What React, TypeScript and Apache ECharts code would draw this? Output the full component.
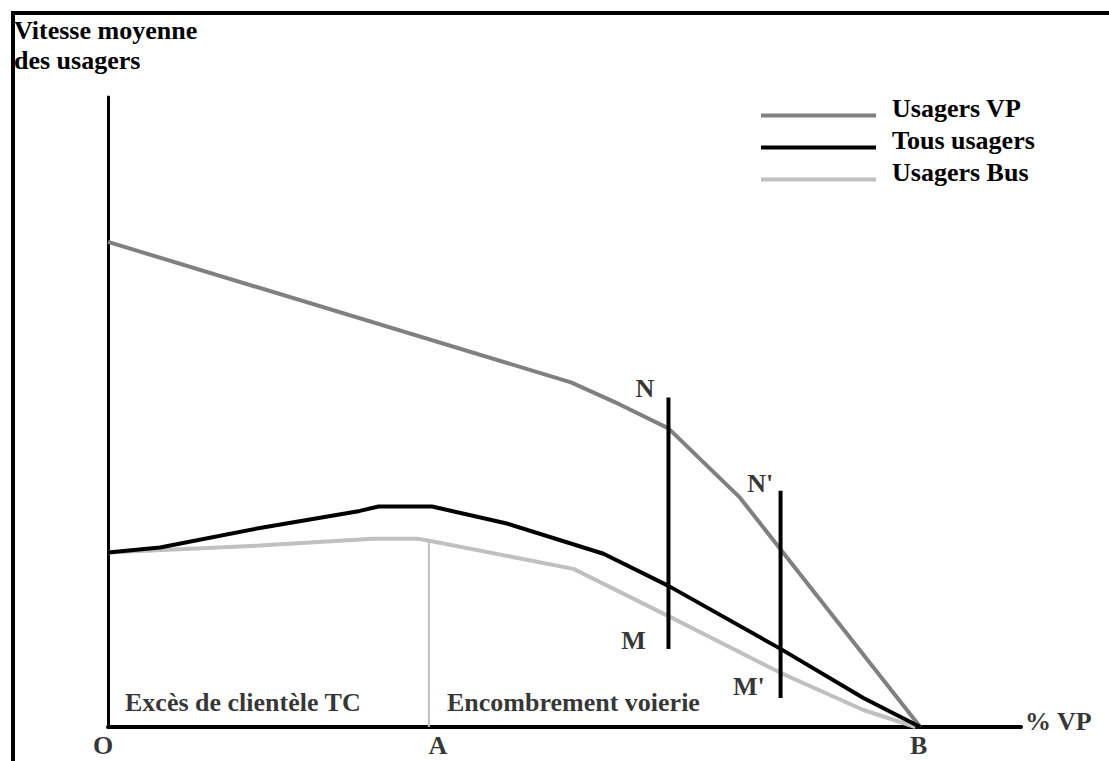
import React, { useEffect, useRef } from "react";
import * as echarts from "echarts";

// Horizontal axis: share of private-car users (% VP), O = 0, B = 100
// Vertical axis: average speed of users (arbitrary units, 0..100)
const seriesNames = ["Usagers VP", "Tous usagers", "Usagers Bus"];

const vpSpeed: [number, number][] = [
  [0, 77], [57, 54.7], [63, 51.2], [69, 47.4], [77.8, 36.4], [100, 0],
];
const allSpeed: [number, number][] = [
  [0, 27.7], [6.4, 28.5], [18.7, 31.6], [31, 34.3], [33.3, 35], [39.9, 35],
  [49.1, 32.3], [61, 27.5], [69, 22.4], [82.8, 12.4], [93, 4.6], [100, 0],
];
const busSpeed: [number, number][] = [
  [0, 27.7], [18.7, 28.8], [32.6, 29.9], [38, 29.9], [39.4, 29.6],
  [57.3, 25.1], [69, 17.6], [82.8, 8.6], [93, 2.7], [99.4, 0],
];

// Vertical reference segments
const lineA: [number, number][] = [[39.5, 29.6], [39.5, 0]];
const lineN: [number, number][] = [[69, 52.3], [69, 12.4]];
const lineN2: [number, number][] = [[82.8, 37.5], [82.8, 4.6]];

// Annotation texts (centres, data units)
const annotations = [
  { name: "O", value: [-0.6, -3.0] },
  { name: "A", value: [40.6, -3.0] },
  { name: "B", value: [99.8, -3.0] },
  { name: "Excès de clientèle TC", value: [16.6, 3.9] },
  { name: "Encombrement voierie", value: [57.3, 3.9] },
  { name: "N", value: [66.1, 53.7] },
  { name: "N'", value: [80.3, 38.6] },
  { name: "M", value: [64.7, 13.8] },
  { name: "M'", value: [78.9, 6.5] },
  { name: "% VP", value: [117, 0.8] },
];

const xMax = 112.4;
const yMax = 100;

const FONT = "'Liberation Serif', 'Times New Roman', serif";
const LEGEND_ICON = "path://M0,0L0.01,0L0.01,0.01Z M0,15L115,15L115,19L0,19Z";

export default function App() {
  const ref = useRef<HTMLDivElement>(null);
  useEffect(() => {
    if (!ref.current) return;
    const chart = echarts.init(ref.current, undefined, { renderer: "svg" });
    const textBase = {
      fontFamily: FONT,
      fontWeight: "bold" as const,
      fontSize: 26,
      color: "#000",
    };
    chart.setOption({
      animation: false,
      backgroundColor: "#fff",
      title: {
        text: "Vitesse moyenne\ndes usagers",
        left: 14,
        top: 15,
        padding: 0,
        textStyle: { ...textBase, lineHeight: 30 },
      },
      legend: {
        data: seriesNames.map((n) => ({ name: n, icon: LEGEND_ICON })),
        orient: "vertical",
        left: 756,
        top: 90,
        itemWidth: 115,
        itemHeight: 20,
        itemGap: 6,
        textStyle: { ...textBase, padding: [0, 0, 0, 11] },
        selectedMode: false,
      },
      grid: {
        left: 108,
        top: 97,
        right: 88,
        bottom: 34,
        outerBoundsMode: "none",
      },
      xAxis: {
        type: "value",
        min: 0,
        max: xMax,
        axisLine: { lineStyle: { color: "#000", width: 4 } },
        axisTick: { show: false },
        axisLabel: { show: false },
        splitLine: { show: false },
      },
      yAxis: {
        type: "value",
        min: 0,
        max: yMax,
        axisLine: { lineStyle: { color: "#000", width: 3 } },
        axisTick: { show: false },
        axisLabel: { show: false },
        splitLine: { show: false },
      },
      graphic: [
        {
          type: "line",
          shape: { x1: 11, y1: 13, x2: 1109, y2: 13 },
          style: { stroke: "#000", lineWidth: 4 },
        },
        {
          type: "line",
          shape: { x1: 13, y1: 11, x2: 13, y2: 761 },
          style: { stroke: "#000", lineWidth: 4 },
        },
      ],
      series: [
        {
          name: seriesNames[0],
          type: "line",
          data: vpSpeed,
          symbol: "none",
          lineStyle: { color: "#808080", width: 4 },
          itemStyle: { color: "#808080" },
          z: 2,
        },
        {
          name: seriesNames[2],
          type: "line",
          data: busSpeed,
          symbol: "none",
          lineStyle: { color: "#c0c0c0", width: 4 },
          itemStyle: { color: "#c0c0c0" },
          z: 2,
        },
        {
          name: "A",
          type: "line",
          data: lineA,
          symbol: "none",
          lineStyle: { color: "#c0c0c0", width: 2 },
          z: 2,
        },
        {
          name: seriesNames[1],
          type: "line",
          data: allSpeed,
          symbol: "none",
          lineStyle: { color: "#000", width: 4 },
          itemStyle: { color: "#000" },
          z: 3,
        },
        {
          name: "N",
          type: "line",
          data: lineN,
          symbol: "none",
          lineStyle: { color: "#000", width: 4 },
          z: 4,
        },
        {
          name: "N'",
          type: "line",
          data: lineN2,
          symbol: "none",
          lineStyle: { color: "#000", width: 4 },
          z: 4,
        },
        {
          name: "labels",
          type: "scatter",
          data: annotations,
          symbolSize: 0,
          clip: false,
          silent: true,
          label: {
            show: true,
            position: "inside",
            formatter: (p: any) => p.name,
            ...textBase,
          },
          z: 5,
        },
      ],
    });
    return () => chart.dispose();
  }, []);
  return (
    <div
      ref={ref}
      style={{ position: "fixed", left: 0, top: 0, width: 1109, height: 761, background: "#fff" }}
    />
  );
}
